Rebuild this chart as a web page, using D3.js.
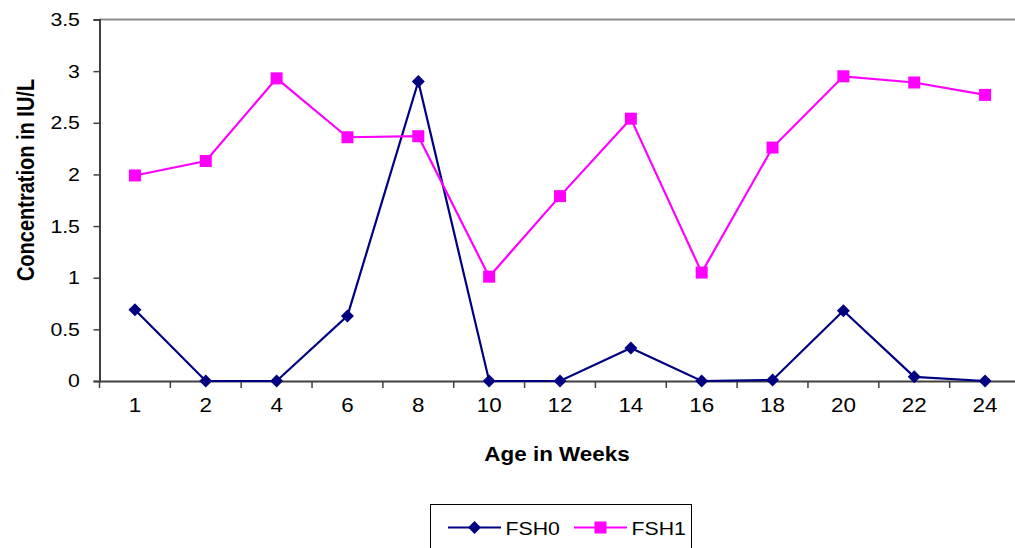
<!DOCTYPE html>
<html><head><meta charset="utf-8">
<script src="https://cdn.jsdelivr.net/npm/d3@7"></script>
<style>body{margin:0;background:#fff}svg{display:block}text{font-family:"Liberation Sans",Arial,sans-serif}</style>
</head><body>
<svg id="c" width="1015" height="548"></svg>
<script>
const categories = ["1","2","4","6","8","10","12","14","16","18","20","22","24"];
const fsh0 = [0.69,0,0,0.63,2.9,0,0,0.32,0,0.01,0.68,0.04,0];
const fsh1 = [1.99,2.13,2.93,2.36,2.37,1.01,1.79,2.54,1.05,2.26,2.95,2.89,2.77];
const yTicks = [0,0.5,1,1.5,2,2.5,3,3.5];
const seriesNames = ["FSH0","FSH1"];

(function(){
const SX = 1.15;
const svg = d3.select("#c");
const pL = 99.5, pR = 1020.5, pT = 19.5, pB = 381;
const x = d3.scaleBand().domain(categories).range([pL, pR]);
const y = d3.scaleLinear().domain([0,3.5]).range([pB, pT]);

svg.append("line").attr("x1",pL).attr("x2",1015).attr("y1",pT).attr("y2",pT).attr("stroke","#8c8c8c").attr("stroke-width",2);

const ya = svg.append("g").attr("transform",`translate(${pL},0)`).call(d3.axisLeft(y).tickValues(yTicks).tickSize(6).tickPadding(11).tickFormat(d=>String(d)));
ya.select(".domain").attr("stroke","#404040").attr("stroke-width",2);
ya.selectAll(".tick line").attr("stroke","#404040").attr("stroke-width",1.5);
ya.selectAll("text").attr("font-size",18.5).attr("fill","#000").attr("font-family","Liberation Sans, Arial, sans-serif")
  .attr("transform",`scale(${SX},1)`);

const xa = svg.append("g").attr("transform",`translate(0,${pB})`).call(d3.axisBottom(x).tickSize(0).tickPadding(17));
xa.select(".domain").attr("stroke","#404040").attr("stroke-width",2);
xa.selectAll("text").attr("font-size",19.5).attr("fill","#000").attr("font-family","Liberation Sans, Arial, sans-serif")
  .attr("transform",`scale(${SX},1)`);
const bounds = categories.map(c=>x(c)).concat([x(categories[categories.length-1])+x.bandwidth()]);
svg.append("g").selectAll("line").data(bounds).join("line")
  .attr("x1",d=>d).attr("x2",d=>d).attr("y1",pB).attr("y2",pB+7)
  .attr("stroke","#404040").attr("stroke-width",1.5);

const cx = c => x(c) + x.bandwidth()/2;
const line = d3.line().x((d,i)=>cx(categories[i])).y(d=>y(d));
const colors = ["#000080","#ff00ff"];
[fsh0, fsh1].forEach((s,k)=>{
  svg.append("path").datum(s).attr("d",line).attr("fill","none").attr("stroke",colors[k]).attr("stroke-width",2.2);
});
svg.append("g").selectAll("path").data(fsh0).join("path")
  .attr("transform",(d,i)=>`translate(${cx(categories[i])},${y(d)})`)
  .attr("d","M0,-6.5L6.5,0L0,6.5L-6.5,0Z").attr("fill",colors[0]);
svg.append("g").selectAll("rect").data(fsh1).join("rect")
  .attr("x",(d,i)=>cx(categories[i])-6).attr("y",d=>y(d)-6).attr("width",12).attr("height",12).attr("fill",colors[1]);

svg.append("text").attr("transform",`translate(557,461) scale(${SX},1)`).attr("text-anchor","middle").attr("font-size",19.5).attr("font-weight","bold").text("Age in Weeks");
svg.append("text").attr("transform",`translate(34,180) scale(${SX},1) rotate(-90)`).attr("text-anchor","middle").attr("font-size",20).attr("font-weight","bold").text("Concentration in IU/L");

const lg = svg.append("g");
lg.append("rect").attr("x",430.5).attr("y",504.5).attr("width",261).attr("height",60).attr("fill","#fff").attr("stroke","#000").attr("stroke-width",1);
const items = [{x:448, name:seriesNames[0], c:colors[0], m:"d"},{x:574, name:seriesNames[1], c:colors[1], m:"s"}];
items.forEach(it=>{
  lg.append("line").attr("x1",it.x).attr("x2",it.x+53).attr("y1",527.5).attr("y2",527.5).attr("stroke",it.c).attr("stroke-width",2.2);
  if(it.m==="d") lg.append("path").attr("transform",`translate(${it.x+26.5},527.5)`).attr("d","M0,-6.5L6.5,0L0,6.5L-6.5,0Z").attr("fill",it.c);
  else lg.append("rect").attr("x",it.x+26.5-6).attr("y",521.5).attr("width",12).attr("height",12).attr("fill",it.c);
  lg.append("text").attr("transform",`translate(${it.x+57.5},535) scale(${SX},1)`).attr("font-size",18.5).text(it.name);
});
})();
</script>
</body></html>
